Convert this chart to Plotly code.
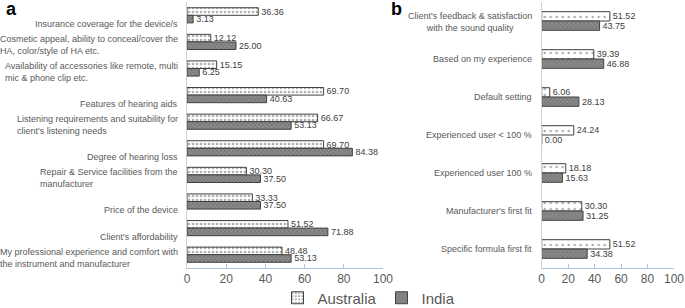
import plotly.graph_objects as go

# ---- data ----
cats_a = [
    "Insurance coverage for the device/s",
    "Cosmetic appeal, ability to conceal/cover the<br>HA, color/style of HA etc.",
    "Availability of accessories like remote, multi<br>mic & phone clip etc.",
    "Features of hearing aids",
    "Listening requirements and suitability for<br>client's listening needs",
    "Degree of hearing loss",
    "Repair & Service facilities from the<br>manufacturer",
    "Price of the device",
    "Client's affordability",
    "My professional experience and comfort with<br>the instrument and manufacturer",
]
australia_a = [36.36, 12.12, 15.15, 69.70, 66.67, 69.70, 30.30, 33.33, 51.52, 48.48]
india_a = [3.13, 25.00, 6.25, 40.63, 53.13, 84.38, 37.50, 37.50, 71.88, 53.13]

cats_b = [
    "Client's feedback & satisfaction<br>with the sound quality",
    "Based on my experience",
    "Default setting",
    "Experienced user < 100 %",
    "Experienced user 100 %",
    "Manufacturer's first fit",
    "Specific formula first fit",
]
australia_b = [51.52, 39.39, 6.06, 24.24, 18.18, 30.30, 51.52]
india_b = [43.75, 46.88, 28.13, 0.00, 15.63, 31.25, 34.38]

x_ticks = [0, 20, 40, 60, 80, 100]
series_names = ["Australia", "India"]

# ---- styling ----
W, H = 685, 308
FONT = "Liberation Sans, Arial, sans-serif"
TXT = "#404040"
LBL = "#595959"
AXBLUE = "#a8c5e6"

def aus_marker(size, solid):
    return dict(color="white", line=dict(color="#404040", width=1),
                pattern=dict(shape=".", fgcolor="#606060", bgcolor="white",
                             size=size, solidity=solid))

def ind_marker():
    return dict(color="#7a7a7a", line=dict(color="#404040", width=1),
                pattern=dict(shape="x", fgcolor="#505050", bgcolor="#8c8c8c",
                             size=3, solidity=0.4))

fig = go.Figure()

def fmt(v):
    return [f"{x:.2f}" for x in v]

common = dict(orientation="h", textposition="outside", constraintext="none",
              cliponaxis=False, textfont=dict(family=FONT, size=9, color=TXT),
              hoverinfo="skip")

fig.add_trace(go.Bar(y=cats_a, x=australia_a, text=fmt(australia_a), name=series_names[0],
                     marker=aus_marker(4, 0.35), xaxis="x", yaxis="y",
                     legendgroup="A", **common))
fig.add_trace(go.Bar(y=cats_a, x=india_a, text=fmt(india_a), name=series_names[1],
                     marker=ind_marker(), xaxis="x", yaxis="y",
                     legendgroup="I", **common))
fig.add_trace(go.Bar(y=cats_b, x=australia_b, text=fmt(australia_b), name=series_names[0],
                     marker=aus_marker(6, 0.15), xaxis="x2", yaxis="y2",
                     showlegend=False, legendgroup="A", **common))
fig.add_trace(go.Bar(y=cats_b, x=india_b, text=fmt(india_b), name=series_names[1],
                     marker=ind_marker(), xaxis="x2", yaxis="y2",
                     showlegend=False, legendgroup="I", **common))

y_dom = [(H - 268) / H, (H - 2) / H]
xa_dom = [187 / W, 383 / W]
xb_dom = [541.7 / W, 674 / W]

xaxis_style = dict(range=[0, 100], tickvals=x_ticks, showline=True, linecolor=AXBLUE,
                   linewidth=1, ticks="inside", tickcolor=AXBLUE, ticklen=4,
                   showgrid=False, zeroline=False, automargin=False,
                   ticklabeloverflow="allow",
                   tickfont=dict(family=FONT, size=12, color=LBL), fixedrange=True)
yaxis_common = dict(type="category", showticklabels=False, showgrid=False,
                    zeroline=False, showline=True, linecolor="#d0d0d0", linewidth=1,
                    ticks="", domain=y_dom, fixedrange=True, automargin=False)

fig.update_layout(
    width=W, height=H, margin=dict(l=0, r=0, t=0, b=0, pad=0, autoexpand=False),
    paper_bgcolor="white", plot_bgcolor="white",
    barmode="group",
    xaxis=dict(domain=xa_dom, anchor="y", **xaxis_style),
    xaxis2=dict(domain=xb_dom, anchor="y2", **xaxis_style),
    yaxis=dict(anchor="x", range=[len(cats_a) - 0.5, -0.5], **yaxis_common),
    yaxis2=dict(anchor="x2", range=[len(cats_b) - 0.5, -0.5], **yaxis_common),
    showlegend=True,
    legend=dict(orientation="h", x=369 / W, xanchor="center", y=(H - 298) / H,
                yanchor="middle", font=dict(family=FONT, size=15, color=LBL),
                itemwidth=30, traceorder="normal", bgcolor="rgba(0,0,0,0)"),
    font=dict(family=FONT),
)

# explicit bar widths per panel (one global bargap cannot serve both panels)
wa = 0.285
wb = 0.245
fig.data[0].update(width=wa, offset=-wa)
fig.data[1].update(width=wa, offset=0)
fig.data[2].update(width=wb, offset=-wb)
fig.data[3].update(width=wb, offset=0)

annotations = []
for c in cats_a:
    two = "<br>" in c
    annotations.append(dict(x=180 / W, xref="paper", xanchor="right", y=c, yref="y",
                            yanchor="middle", text=c, showarrow=False, align="left",
                            yshift=-3.5 if two else -8.5,
                            font=dict(family=FONT, size=9, color=LBL)))
for c in cats_b:
    annotations.append(dict(x=534 / W, xref="paper", xanchor="right", y=c, yref="y2",
                            yanchor="middle", text=c, showarrow=False, align="center",
                            yshift=-1 if "<br>" in c else 0,
                            font=dict(family=FONT, size=9, color=LBL)))
annotations.append(dict(x=11 / W, y=(H - 9) / H, xref="paper", yref="paper",
                        text="<b>a</b>", showarrow=False, xanchor="center", yanchor="middle",
                        font=dict(family=FONT, size=18, color="black")))
annotations.append(dict(x=396 / W, y=(H - 9) / H, xref="paper", yref="paper",
                        text="<b>b</b>", showarrow=False, xanchor="center", yanchor="middle",
                        font=dict(family=FONT, size=18, color="black")))
fig.update_layout(annotations=annotations)

fig.write_html("out.html", config={"displayModeBar": False, "staticPlot": True},
               post_script="document.body.style.margin='0';")
